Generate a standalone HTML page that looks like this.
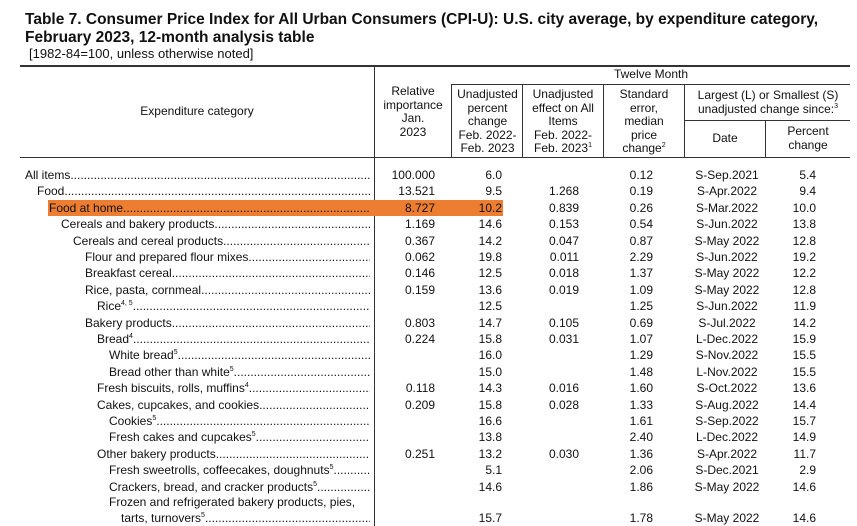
<!DOCTYPE html>
<html><head><meta charset="utf-8">
<style>
body{margin:0;width:857px;height:526px;overflow:hidden;background:#fff;font-family:"Liberation Sans",Arial,sans-serif;color:#111;position:relative}
.a{position:absolute;white-space:nowrap}
.t{font-weight:bold;font-size:15.5px;left:25px}
.h{font-size:12px;text-align:center;line-height:13.5px}
.r{font-size:12px;line-height:16px}
.lab{display:flex;overflow:hidden}
.lab .d{flex:1 1 0;min-width:0;overflow:hidden;white-space:nowrap}
.lab .n{flex:0 0 auto}
.ln{position:absolute;background:#333}
sup{font-size:7px;line-height:0}
</style></head><body>
<div class="a t" style="top:11px">Table 7. Consumer Price Index for All Urban Consumers (CPI-U): U.S. city average, by expenditure category,</div>
<div class="a t" style="top:29px">February 2023, 12-month analysis table</div>
<div class="a" style="top:46px;left:29px;font-size:13px">[1982-84=100, unless otherwise noted]</div>
<div class="ln" style="left:20px;top:65px;width:830px;height:2px"></div>
<div class="ln" style="left:374px;top:66px;width:1px;height:460px"></div>
<div class="ln" style="left:451px;top:84px;width:1px;height:73px"></div>
<div class="ln" style="left:522px;top:84px;width:1px;height:73px"></div>
<div class="ln" style="left:603px;top:84px;width:1px;height:73px"></div>
<div class="ln" style="left:684px;top:84px;width:1px;height:73px"></div>
<div class="ln" style="left:765px;top:121px;width:1px;height:36px"></div>
<div class="ln" style="left:451px;top:84px;width:399px;height:1px"></div>
<div class="ln" style="left:684px;top:120px;width:166px;height:1px"></div>
<div class="ln" style="left:20px;top:157px;width:830px;height:1px"></div>

<div class="a h" style="left:20px;width:354px;top:105px">Expenditure category</div>
<div class="a h" style="left:375px;width:76px;top:85px">Relative<br>importance<br>Jan.<br>2023</div>
<div class="a h" style="left:451px;width:400px;top:68px">Twelve Month</div>
<div class="a h" style="left:452px;width:71px;top:88px">Unadjusted<br>percent<br>change<br>Feb. 2022-<br>Feb. 2023</div>
<div class="a h" style="left:523px;width:80px;top:88px">Unadjusted<br>effect on All<br>Items<br>Feb. 2022-<br>Feb. 2023<sup>1</sup></div>
<div class="a h" style="left:604px;width:80px;top:88px">Standard<br>error,<br>median<br>price<br>change<sup>2</sup></div>
<div class="a h" style="left:685px;width:166px;top:89px">Largest (L) or Smallest (S)<br>unadjusted change since:<sup>3</sup></div>
<div class="a h" style="left:685px;width:80px;top:132px">Date</div>
<div class="a h" style="left:766px;width:84px;top:125px">Percent<br>change</div>

<div class="a" style="left:48px;top:200px;width:455px;height:16px;background:#ED7D31"></div>

<script>
const labels=["All items","Food","Food at home","Cereals and bakery products","Cereals and cereal products","Flour and prepared flour mixes","Breakfast cereal","Rice, pasta, cornmeal","Rice<sup>4, 5</sup>","Bakery products","Bread<sup>4</sup>","White bread<sup>5</sup>","Bread other than white<sup>5</sup>","Fresh biscuits, rolls, muffins<sup>4</sup>","Cakes, cupcakes, and cookies","Cookies<sup>5</sup>","Fresh cakes and cupcakes<sup>5</sup>","Other bakery products","Fresh sweetrolls, coffeecakes, doughnuts<sup>5</sup>","Crackers, bread, and cracker products<sup>5</sup>","tarts, turnovers<sup>5</sup>"];
const levels=[0,1,2,3,4,5,5,5,6,5,6,7,7,6,6,7,7,6,7,7,7];
const relImp=["100.000","13.521","8.727","1.169","0.367","0.062","0.146","0.159","","0.803","0.224","","","0.118","0.209","","","0.251","","",""];
const pctChange=["6.0","9.5","10.2","14.6","14.2","19.8","12.5","13.6","12.5","14.7","15.8","16.0","15.0","14.3","15.8","16.6","13.8","13.2","5.1","14.6","15.7"];
const effect=["","1.268","0.839","0.153","0.047","0.011","0.018","0.019","","0.105","0.031","","","0.016","0.028","","","0.030","","",""];
const stdErr=["0.12","0.19","0.26","0.54","0.87","2.29","1.37","1.09","1.25","0.69","1.07","1.29","1.48","1.60","1.33","1.61","2.40","1.36","2.06","1.86","1.78"];
const dates=["S-Sep.2021","S-Apr.2022","S-Mar.2022","S-Jun.2022","S-May 2022","S-Jun.2022","S-May 2022","S-May 2022","S-Jun.2022","S-Jul.2022","L-Dec.2022","S-Nov.2022","L-Nov.2022","S-Oct.2022","S-Aug.2022","S-Sep.2022","L-Dec.2022","S-Apr.2022","S-Dec.2021","S-May 2022","S-May 2022"];
const sincePct=["5.4","9.4","10.0","13.8","12.8","19.2","12.2","12.8","11.9","14.2","15.9","15.5","15.5","13.6","14.4","15.7","14.9","11.7","2.9","14.6","14.6"];
const dots=".".repeat(200);
function rowTop(i){return 167+i*16.4+(i>=20?15:0);}
function add(html,style,name,cls){const d=document.createElement('div');d.className=cls||'a r';d.style.cssText=style;d.innerHTML=html;


document.body.appendChild(d);return d;}
for(let i=0;i<labels.length;i++){
 const y=rowTop(i);
 const x=25+levels[i]*12;
 if(i===20){
  add("Frozen and refrigerated bakery products, pies,","left:109px;top:"+(y-16)+"px;width:261px;overflow:hidden","row-label-frozen-line1");
 }
 const lx=(i===20)?121:x;
 add('<span class="n">'+labels[i]+'</span><span class="d">'+dots+'</span>',"left:"+lx+"px;width:"+(370-lx)+"px;top:"+y+"px",'row-label','a r lab');
 add(relImp[i],"right:"+(857-435)+"px;top:"+y+"px",'relative-importance-value');
 add(pctChange[i],"right:"+(857-502)+"px;top:"+y+"px",'percent-change-value');
 add(effect[i],"right:"+(857-579)+"px;top:"+y+"px",'effect-value');
 add(stdErr[i],"right:"+(857-653)+"px;top:"+y+"px",'standard-error-value');
 add(dates[i],"left:685px;width:84px;text-align:center;top:"+y+"px",'since-date-value');
 add(sincePct[i],"right:"+(857-816)+"px;top:"+y+"px",'since-percent-value');
}
</script>
</body></html>
